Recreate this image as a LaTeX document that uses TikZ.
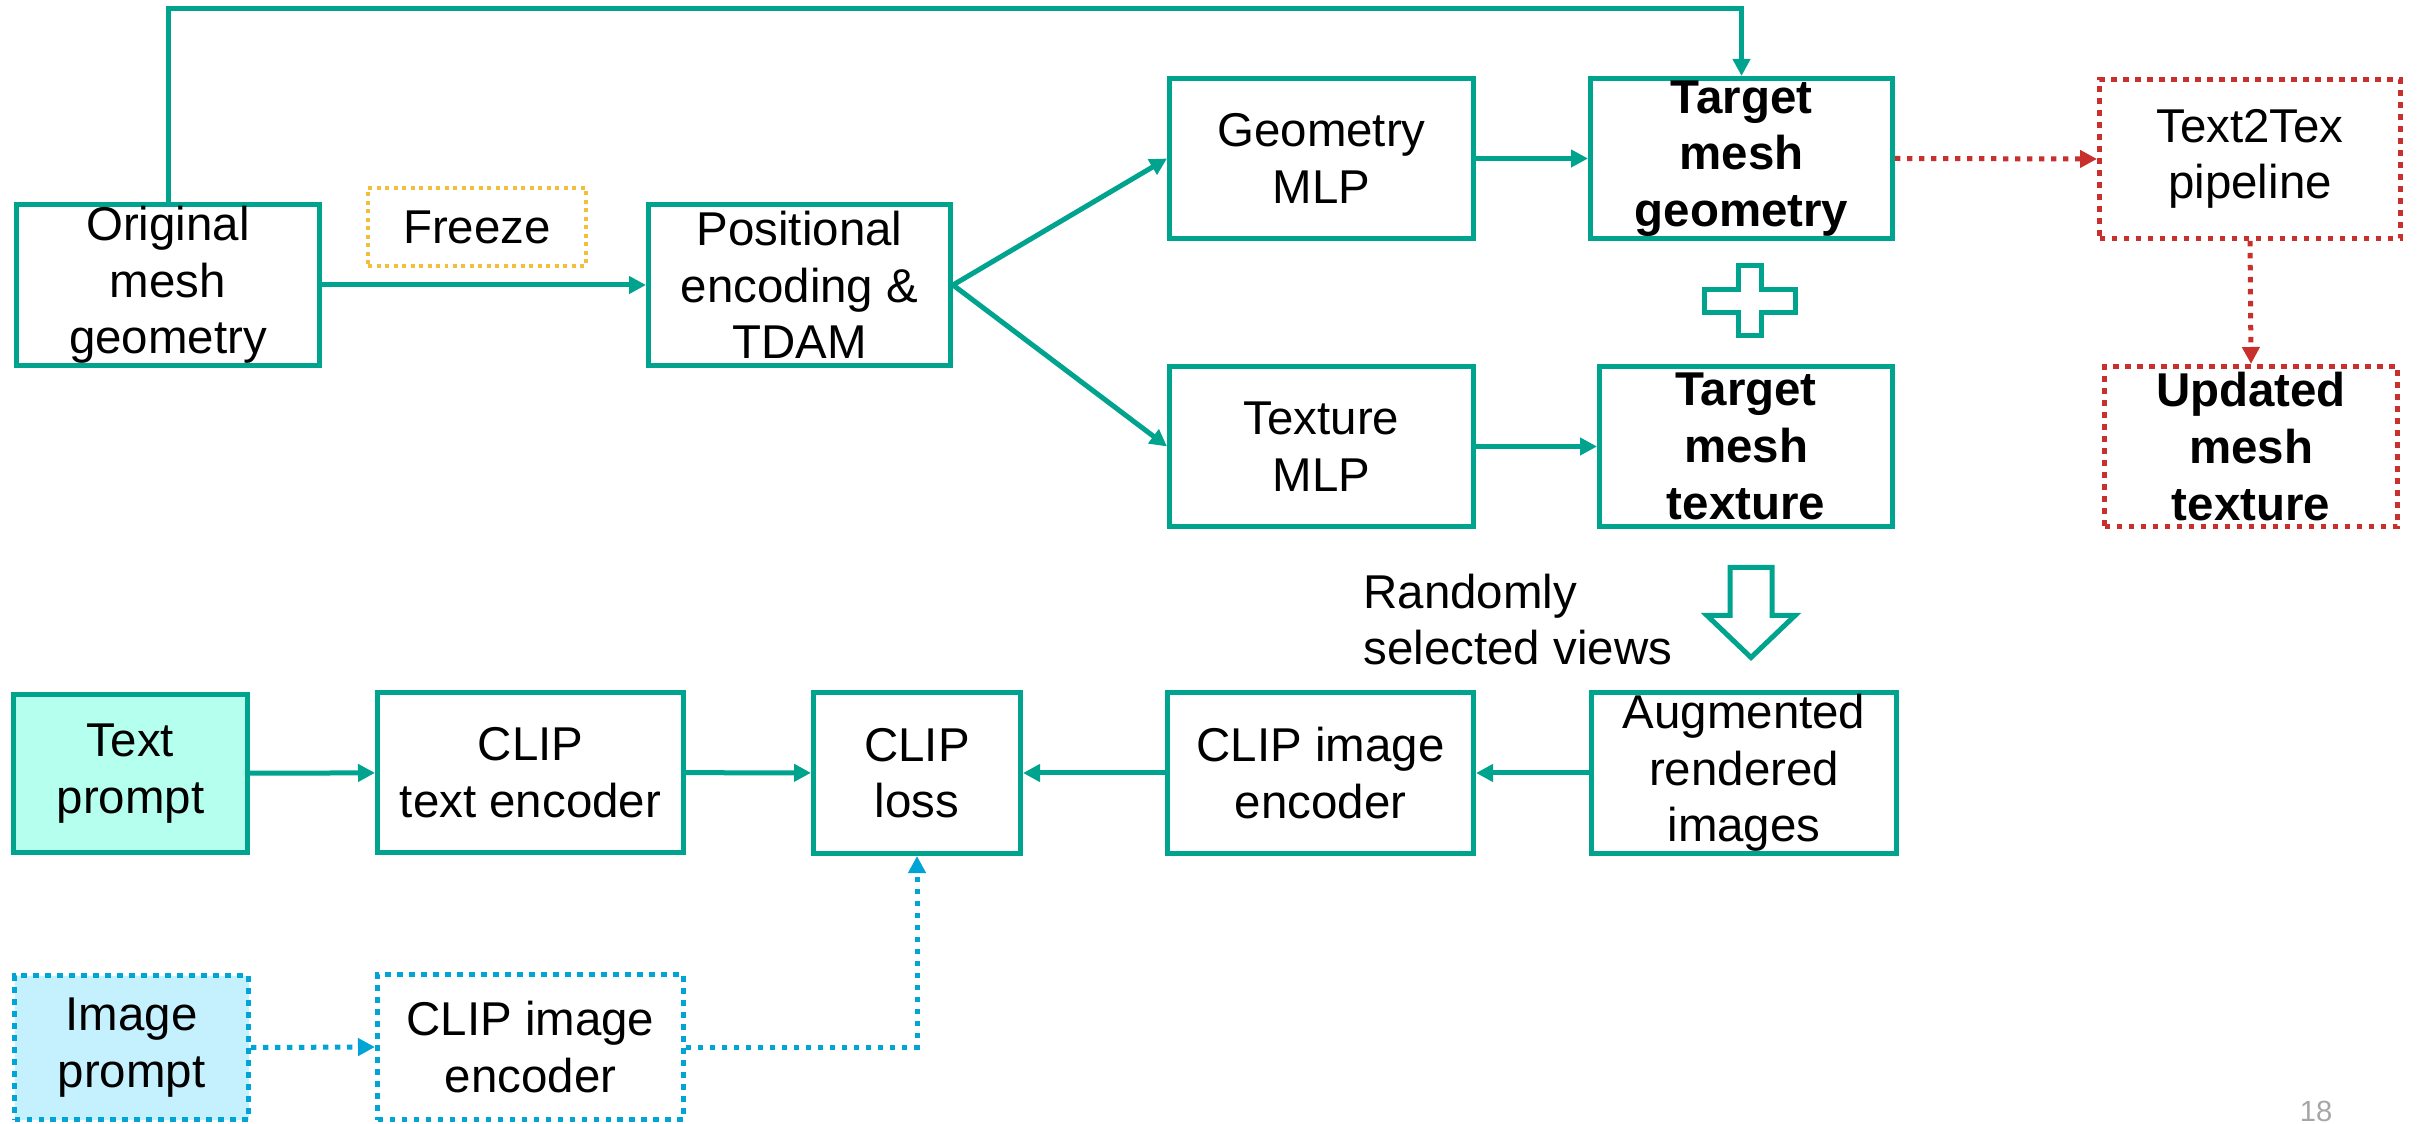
\documentclass[tikz,border=0pt]{standalone}
\usepackage{fontspec}
\setmainfont{Liberation Sans}
\usetikzlibrary{arrows.meta}
\definecolor{teal1}{RGB}{0,163,141}
\definecolor{red1}{RGB}{200,48,46}
\definecolor{blue1}{RGB}{0,165,214}
\definecolor{yellow1}{RGB}{242,190,60}
\definecolor{mint1}{RGB}{181,255,238}
\definecolor{sky1}{RGB}{197,241,255}
\definecolor{gray1}{RGB}{166,166,166}

\begin{document}
\begin{tikzpicture}[x=1cm, y=-1cm, line width=0.05cm,
  >={Triangle[length=0.17cm,width=0.17cm]},
  font=\fontsize{13.5}{16.1}\selectfont,
  box/.style={draw=teal1, align=center, inner sep=0pt, minimum width=3.04cm, minimum height=1.61cm},
  strong/.style={font=\fontsize{13.5}{16.1}\selectfont\bfseries},
  redbox/.style={box, draw=red1, dash pattern=on 0.053cm off 0.067cm},
  bluebox/.style={box, draw=blue1, dash pattern=on 0.053cm off 0.067cm, minimum height=1.45cm},
  teal line/.style={color=teal1, ->},
  red line/.style={color=red1, ->, dash pattern=on 0.053cm off 0.067cm},
  blue line/.style={color=blue1, ->, dash pattern=on 0.053cm off 0.067cm}]
  \useasboundingbox (0,0) rectangle (24.2,11.24);

  % upper part
  \node[box, minimum width=3.03cm] (orig) at (1.68,2.85) {Original\\mesh\\geometry};
  \node[box, draw=yellow1, line width=0.04cm, dash pattern=on 0.04cm off 0.045cm,
        minimum width=2.18cm, minimum height=0.78cm] (freeze) at (4.77,2.27) {Freeze};
  \node[box, minimum width=3.02cm] (pos) at (7.995,2.85) {Positional\\encoding \&\\TDAM};
  \node[box, minimum height=1.60cm] (geo) at (13.215,1.585) {Geometry\\MLP};
  \node[box, strong, minimum width=3.02cm, minimum height=1.60cm] (tgeo) at (17.415,1.585) {Target\\mesh\\geometry};
  \node[redbox, minimum width=3.01cm, minimum height=1.59cm] (t2t) at (22.5,1.59) {Text2Tex\\pipeline};
  \node[box, minimum height=1.60cm] (tex) at (13.215,4.465) {Texture\\MLP};
  \node[box, strong, minimum width=2.93cm, minimum height=1.60cm] (ttex) at (17.46,4.465) {Target\\mesh\\texture};
  \node[redbox, strong, minimum width=2.93cm, minimum height=1.60cm] (upd) at (22.51,4.465) {Updated\\mesh\\texture};

  % lower part
  \node[box, minimum width=3.05cm] (aug) at (17.44,7.73) {Augmented\\rendered\\images};
  \node[box, minimum width=3.06cm] (cimg) at (13.205,7.73) {CLIP image\\encoder};
  \node[box, minimum width=2.07cm] (loss) at (9.17,7.73) {CLIP\\loss};
  \node[box, minimum width=3.06cm, minimum height=1.60cm] (ctxt) at (5.305,7.725) {CLIP\\text encoder};
  \node[box, fill=mint1, minimum width=2.34cm, minimum height=1.58cm] (tprompt) at (1.305,7.735) {Text\\prompt};
  \node[bluebox, fill=sky1, minimum width=2.34cm, minimum height=1.44cm] (iprompt) at (1.315,10.475) {Image\\prompt};
  \node[bluebox, minimum width=3.06cm] (cimg2) at (5.305,10.47) {CLIP image\\encoder};

  \node[align=left, anchor=west, inner sep=0pt] (views) at (13.61,6.195) {Randomly\\selected views};
  \node[text=gray1, font=\fontsize{8.3}{10}\selectfont, inner sep=0pt] (page) at (23.16,11.115) {18};

  % connectors
  \foreach \from/\to in {orig/pos, geo/tgeo, tex/ttex, tprompt/ctxt, ctxt/loss, aug/cimg, cimg/loss}
    \draw[teal line] (\from) -- (\to);
  \draw[teal line] (pos.east) -- (geo.west);
  \draw[teal line] (pos.east) -- (tex.west);
  \coordinate (topl) at (1.68,0.09);
  \draw[teal line] (orig.north) -- (topl) -| (tgeo.north);
  \draw[red line] (tgeo.east) -- (t2t.west);
  \draw[red line] (t2t.south) -- (upd.north);
  \draw[blue line] (iprompt.east) -- (cimg2.west);
  \draw[blue line] (cimg2.east) -| (loss.south);

  % plus sign and hollow arrow
  \coordinate (plus) at (17.495,3.01);
  \draw[teal1, shift={(plus)}] (-0.115,-0.35) -- (0.115,-0.35) -- (0.115,-0.115) -- (0.455,-0.115)
    -- (0.455,0.115) -- (0.115,0.115) -- (0.115,0.35) -- (-0.115,0.35) -- (-0.115,0.115)
    -- (-0.455,0.115) -- (-0.455,-0.115) -- (-0.115,-0.115) -- cycle;
  \coordinate (down) at (17.51,5.675);
  \draw[teal1, shift={(down)}] (-0.21,0) -- (0.21,0) -- (0.21,0.48) -- (0.44,0.48)
    -- (0,0.90) -- (-0.44,0.48) -- (-0.21,0.48) -- cycle;
\end{tikzpicture}
\end{document}
